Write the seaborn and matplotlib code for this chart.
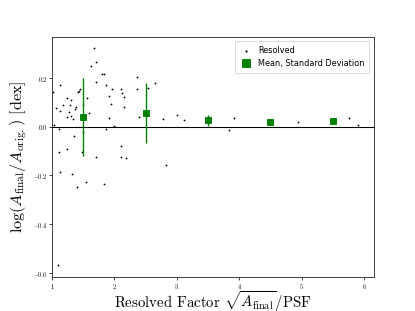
import seaborn as sns
import matplotlib.pyplot as plt
import pandas as pd

# resolved factor sqrt(A_final)/PSF and log(A_final/A_orig) for each object
res_factor = [1.02, 1.13, 1.06, 1.13, 1.04, 1.12, 1.18, 1.24, 1.31, 1.29,
              1.27, 1.25, 1.31, 1.34, 1.37, 1.38, 1.42, 1.43, 1.45, 1.35,
              1.50, 1.50, 1.49, 1.24, 1.12, 1.56, 1.60, 1.68, 1.71, 1.63,
              1.70, 1.81, 1.83, 1.86, 1.92, 1.97, 1.94, 1.92, 1.86, 1.99,
              2.11, 2.12, 2.15, 2.15, 2.10, 1.71, 2.10, 2.19, 2.37, 2.37,
              2.39, 2.54, 2.65, 2.78, 3.01, 3.12, 2.82, 1.13, 1.32, 1.40,
              1.54, 1.84, 1.09, 3.91, 3.84, 4.94, 5.75, 5.90]
log_ratio = [0.143, 0.169, 0.075, 0.062, 0.008, -0.008, 0.089, 0.118, 0.107, 0.089,
             0.059, 0.041, 0.045, 0.029, 0.073, 0.079, 0.140, 0.144, 0.156, -0.037,
             0.089, -0.023, -0.104, -0.092, -0.106, 0.119, 0.056, 0.324, 0.265, 0.248,
             0.182, 0.215, 0.215, 0.169, 0.125, 0.152, 0.092, 0.037, -0.012, 0.004,
             0.152, 0.137, 0.121, 0.079, -0.078, -0.124, -0.124, -0.130, 0.203, 0.155,
             0.038, 0.158, 0.177, 0.030, 0.047, 0.027, -0.156, -0.188, -0.193, -0.248,
             -0.228, -0.235, -0.569, 0.035, -0.014, 0.018, 0.036, 0.005]

# binned mean and standard deviation
bin_centers = [1.5, 2.5, 3.5, 4.5, 5.5]
bin_means = [0.039, 0.056, 0.026, 0.017, 0.023]
bin_stds = [0.160, 0.122, 0.022, 0.0, 0.004]

df = pd.DataFrame({"factor": res_factor, "ratio": log_ratio})

plt.rcParams["mathtext.fontset"] = "cm"
plt.rcParams["font.family"] = "serif"
plt.rcParams["font.serif"] = ["cmr10"]
plt.rcParams["axes.formatter.use_mathtext"] = True

fig, ax = plt.subplots(figsize=(6.4, 4.8), dpi=64.85)

sns.scatterplot(data=df, x="factor", y="ratio", ax=ax, color="black",
                marker=".", s=16, linewidth=0, label="Resolved", zorder=3)
ax.axhline(0, color="black", lw=1.2, zorder=2)
ax.errorbar(bin_centers, bin_means, yerr=bin_stds, fmt="s", color="green",
            ms=6.5, elinewidth=1.5, capsize=0, label="Mean, Standard Deviation",
            zorder=4)

ax.set_xlim(1, 6.15)
ax.set_ylim(-0.616, 0.367)
ax.set_xticks([1, 2, 3, 4, 5, 6])
ax.set_yticks([-0.6, -0.4, -0.2, 0.0, 0.2])
ax.tick_params(labelsize=7, length=3, pad=2)

ax.set_xlabel(r"Resolved Factor $\sqrt{A_{\rm final}}/{\rm PSF}$", fontsize=16.5, labelpad=-1.5)
ax.set_ylabel(r"$\log(A_{\rm final}/A_{\rm orig.})$ [dex]", fontsize=18, labelpad=4)

ax.legend(loc="upper right", prop={"family": "DejaVu Sans", "size": 9},
          markerscale=1.2, handlelength=1.5, borderpad=0.6)

plt.savefig("out.png", dpi=64.85)
plt.close()
